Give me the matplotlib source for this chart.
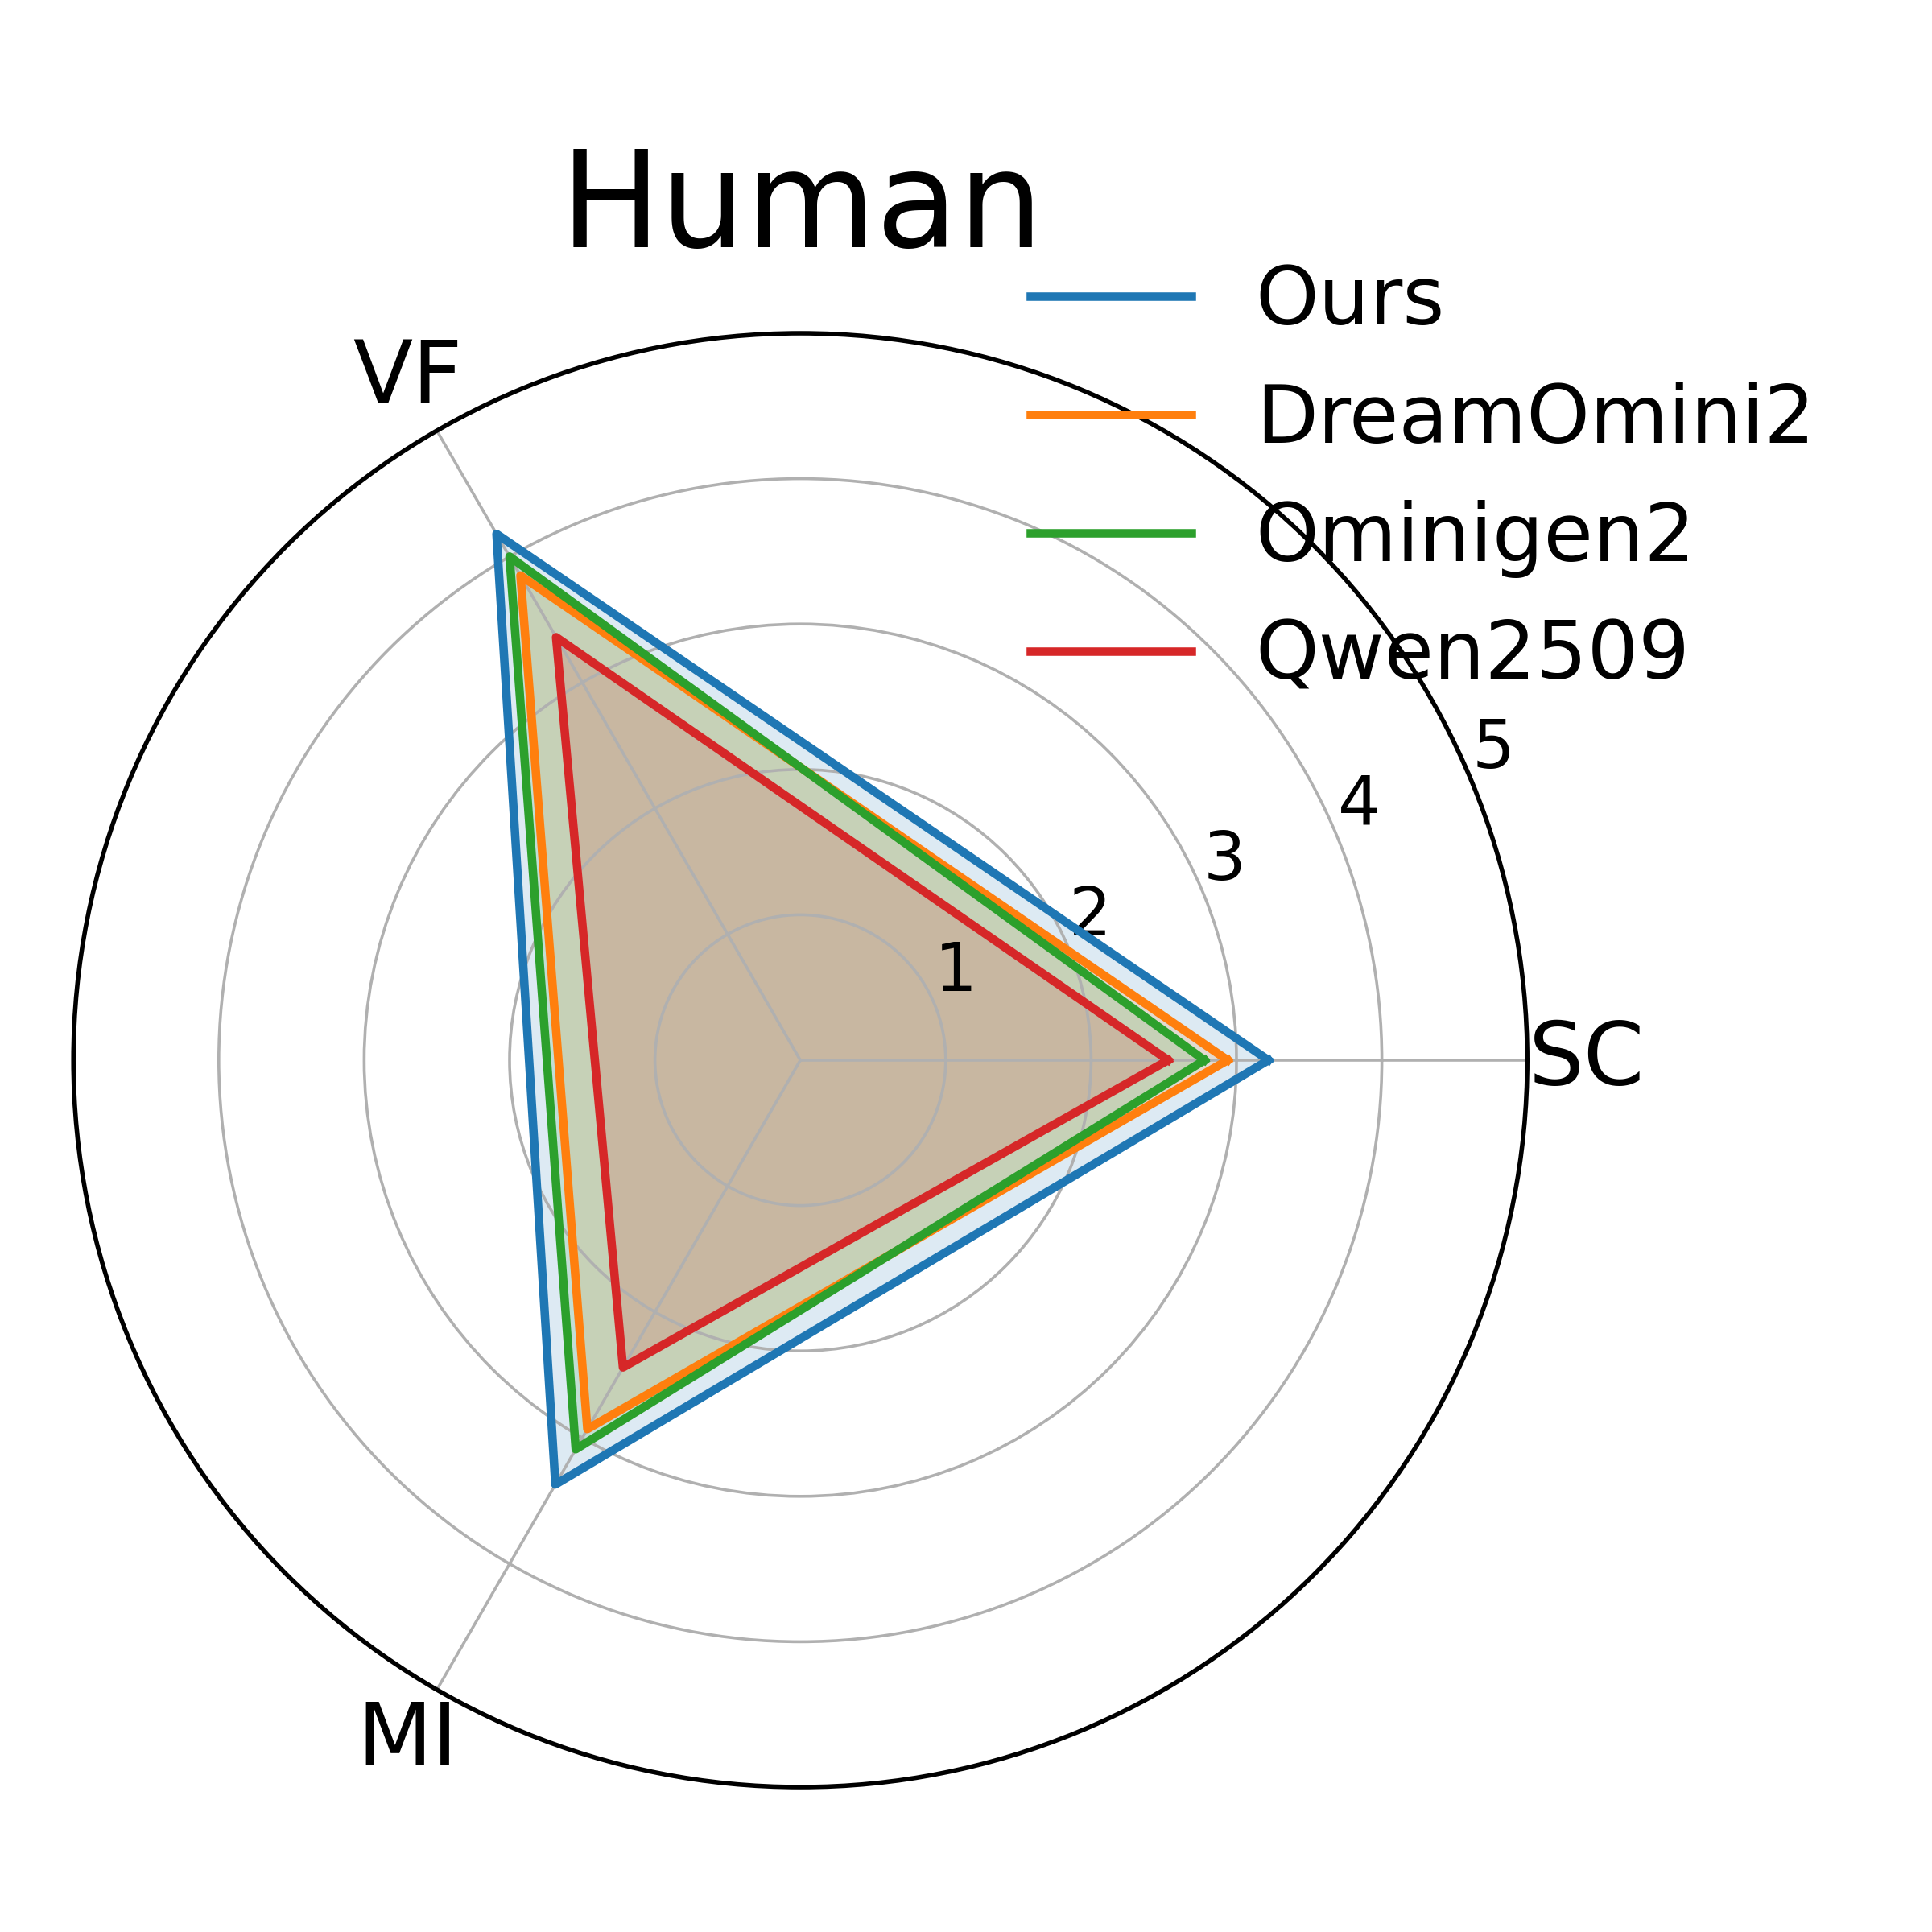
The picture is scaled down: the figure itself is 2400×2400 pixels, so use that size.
import numpy as np
import matplotlib
matplotlib.use('Agg')
import matplotlib.pyplot as plt

# data
categories = ['SC', 'VF', 'MI']
models = ['Ours', 'DreamOmini2', 'Ominigen2', 'Qwen2509']
ours = [3.22, 4.18, 3.37]
dreamomini2 = [2.94, 3.85, 2.93]
ominigen2 = [2.78, 4.00, 3.09]
qwen2509 = [2.53, 3.36, 2.44]
series = [ours, dreamomini2, ominigen2, qwen2509]
colors = ['#1f77b4', '#ff7f0e', '#2ca02c', '#d62728']
r_ticks = [1, 2, 3, 4, 5]

fig = plt.figure(figsize=(12, 12), dpi=200)
ax = fig.add_axes([0.038, 0.075, 0.7525, 0.7525], polar=True)

angles = np.linspace(0, 2 * np.pi, len(categories), endpoint=False)
closed = np.concatenate([angles, angles[:1]])

for vals, name, c in zip(series, models, colors):
    v = list(vals) + [vals[0]]
    ax.plot(closed, v, color=c, linewidth=3.8, label=name)
    ax.fill(closed, v, color=c, alpha=0.15)

ax.set_ylim(0, 5)
ax.set_yticks(r_ticks)
ax.set_yticklabels([str(t) for t in r_ticks], fontsize=30)
ax.set_rlabel_position(22.5)
ax.set_thetagrids(np.degrees(angles), categories, fontsize=39)
ax.tick_params(axis='x', pad=16)
ax.grid(True, color='#b0b0b0', linewidth=1.3)
ax.spines['polar'].set_linewidth(2)

fig.text(0.415, 0.872, 'Human', fontsize=60, ha='center', va='baseline')

ax.legend(loc='upper left', bbox_to_anchor=(0.5166, 0.8805), bbox_transform=fig.transFigure,
          frameon=False, fontsize=36, borderaxespad=0)

plt.savefig('out.png', dpi=200)
